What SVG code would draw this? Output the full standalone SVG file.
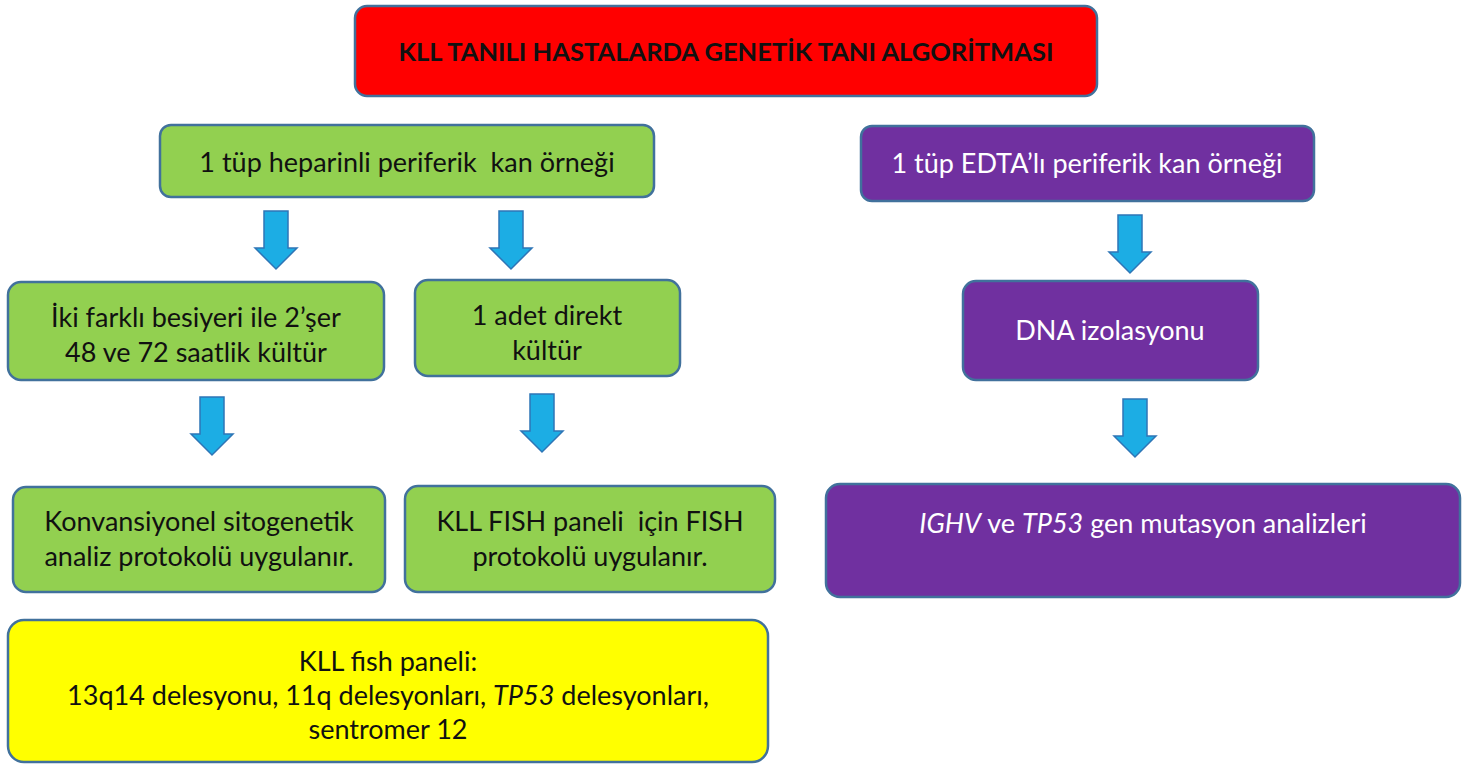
<svg xmlns="http://www.w3.org/2000/svg" width="1474" height="764" viewBox="0 0 1474 764">
<defs>
<style>
.box{stroke:#41719C;stroke-width:2.5}
.red{fill:#FF0000}
.green{fill:#92D050}
.purple{fill:#7030A0}
.yellow{fill:#FFFF00}
.t{font-family:Lato,"Open Sans","Liberation Sans",sans-serif;font-size:27px;fill:#111;text-anchor:middle;white-space:pre}
.w{fill:#fff}
.title{font-weight:bold;font-size:25.5px}
.arrow{fill:#1CADE4;stroke:#2E75B6;stroke-width:1.5}
</style>
<path id="arr" d="M-12,0 H12 V37 H21 L0,58 L-21,37 H-12 Z"/>
</defs>
<rect width="1474" height="764" fill="#fff"/>
<g id="connectors" class="arrow">
<use href="#arr" x="276" y="211"/>
<use href="#arr" x="511" y="211"/>
<use href="#arr" x="212" y="397"/>
<use href="#arr" x="542" y="394"/>
<use href="#arr" x="1130" y="215"/>
<use href="#arr" x="1135" y="399"/>
</g>
<g id="title">
<rect class="box red" x="355" y="6" width="742" height="90" rx="12"/>
<text class="t title" x="726" y="61">KLL TANILI HASTALARDA GENETİK TANI ALGORİTMASI</text>
</g>
<g id="heparin">
<rect class="box green" x="160" y="125" width="494" height="72" rx="11"/>
<text class="t" x="407" y="172" xml:space="preserve">1 tüp heparinli periferik  kan örneği</text>
</g>
<g id="edta">
<rect class="box purple" x="861" y="126" width="453" height="75" rx="11"/>
<text class="t w" x="1087" y="173">1 tüp EDTA’lı periferik kan örneği</text>
</g>
<g id="kultur2">
<rect class="box green" x="8" y="282" width="376" height="98" rx="13"/>
<text class="t" x="196" y="327">İki farklı besiyeri ile 2’şer</text>
<text class="t" x="196" y="362">48 ve 72 saatlik kültür</text>
</g>
<g id="direkt">
<rect class="box green" x="415" y="280" width="265" height="96" rx="13"/>
<text class="t" x="547" y="325">1 adet direkt</text>
<text class="t" x="547" y="360">kültür</text>
</g>
<g id="dna">
<rect class="box purple" x="963" y="281" width="295" height="99" rx="13"/>
<text class="t w" x="1110" y="340">DNA izolasyonu</text>
</g>
<g id="sitogenetik">
<rect class="box green" x="13" y="487" width="372" height="105" rx="13"/>
<text class="t" x="199" y="531">Konvansiyonel sitogenetik</text>
<text class="t" x="199" y="566">analiz protokolü uygulanır.</text>
</g>
<g id="fish">
<rect class="box green" x="405" y="486" width="370" height="106" rx="13"/>
<text class="t" x="590" y="531" xml:space="preserve">KLL FISH paneli  için FISH</text>
<text class="t" x="590" y="566">protokolü uygulanır.</text>
</g>
<g id="mutasyon">
<rect class="box purple" x="826" y="484" width="634" height="113" rx="14"/>
<text class="t w" x="1143" y="533"><tspan font-style="italic">IGHV</tspan> ve <tspan font-style="italic">TP53</tspan> gen mutasyon analizleri</text>
</g>
<g id="panel">
<rect class="box yellow" x="8" y="620" width="760" height="142" rx="16"/>
<text class="t" x="388" y="671">KLL fish paneli:</text>
<text class="t" x="388" y="705">13q14 delesyonu, 11q delesyonları, <tspan font-style="italic">TP53</tspan> delesyonları,</text>
<text class="t" x="388" y="739">sentromer 12</text>
</g>
</svg>
